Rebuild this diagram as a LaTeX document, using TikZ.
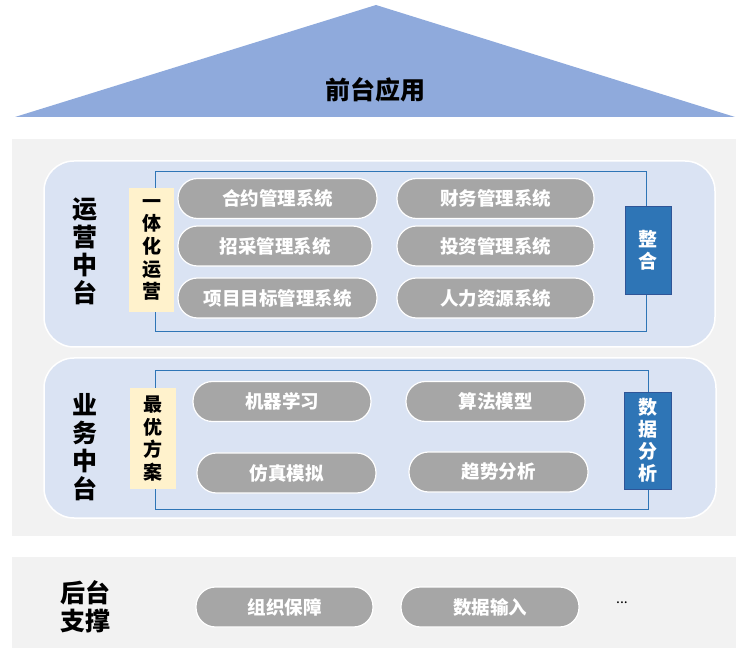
\documentclass[tikz,border=0pt]{standalone}
\usepackage{fontspec}
\setmainfont{Noto Sans CJK SC}
\definecolor{triblue}{HTML}{8FAADC}
\definecolor{bggray}{HTML}{F2F2F2}
\definecolor{panel}{HTML}{DAE3F3}
\definecolor{lineblue}{HTML}{2E75B6}
\definecolor{softyellow}{HTML}{FFF2CC}
\definecolor{pillgray}{HTML}{A6A6A6}
\definecolor{boxblue}{HTML}{2E75B6}
\definecolor{boxedge}{HTML}{2F5597}
\begin{document}
\begin{tikzpicture}[x=1pt,y=-1pt,
  pill/.style={draw=white, line width=1.2pt, fill=pillgray, rounded corners=19.5pt,
    minimum height=40pt, text=white, inner sep=0pt,
    font=\fontsize{18.5}{20}\selectfont\bfseries},
  panelbox/.style={draw=white, line width=1.5pt, fill=panel, rounded corners=30pt},
  sidetag/.style={fill=softyellow, inner sep=0pt, align=center,
    font=\fontsize{19}{22.7}\selectfont\bfseries},
  bluetag/.style={fill=boxblue, draw=boxedge, line width=0.8pt, inner sep=0pt, align=center,
    text=white, font=\fontsize{19}{22}\selectfont\bfseries},
  biglabel/.style={align=center, inner sep=0pt, font=\fontsize{25}{28}\selectfont\bfseries},
  frameline/.style={draw=lineblue, line width=1pt}]
\useasboundingbox (0,0) rectangle (753,652);
% front triangle
\fill[triblue] (15,117) -- (376,5) -- (735,117) -- cycle;
\node[biglabel] (front) at (375,90) {前台应用};
% middle gray background
\fill[bggray] (12,139) rectangle (736,536);
% panels
\draw[panelbox] (44,161) rectangle (715,347);
\draw[panelbox] (44,358) rectangle (716,518);
% inner frames
\draw[frameline] (155,172) rectangle (646,332);
\draw[frameline] (155,371) rectangle (648,509);
% side labels
\node[biglabel] (ops) at (85,251) {运\\营\\中\\台};
\node[biglabel] (biz) at (85,447) {业\\务\\中\\台};
% yellow tags
\node[sidetag, minimum width=45pt, minimum height=124pt] (integ) at (151.5,250) {一\\体\\化\\运\\营};
\node[sidetag, minimum width=46pt, minimum height=101pt] (best) at (153,438.5) {最\\优\\方\\案};
% top pills
\node[pill, minimum width=199pt] (p1) at (277.5,198.5) {合约管理系统};
\node[pill, minimum width=194pt] (p2) at (275,246) {招采管理系统};
\node[pill, minimum width=199pt] (p3) at (277.5,298) {项目目标管理系统};
\node[pill, minimum width=197pt] (p4) at (495.5,198.5) {财务管理系统};
\node[pill, minimum width=197pt] (p5) at (495.5,246) {投资管理系统};
\node[pill, minimum width=197pt] (p6) at (495.5,298) {人力资源系统};
% lower pills
\node[pill, minimum width=178pt] (q1) at (282,401.5) {机器学习};
\node[pill, minimum width=179pt] (q2) at (286.5,473) {仿真模拟};
\node[pill, minimum width=179pt] (q3) at (495.5,401.5) {算法模型};
\node[pill, minimum width=179pt] (q4) at (498.5,472) {趋势分析};
% blue tags
\node[bluetag, minimum width=46pt, minimum height=88pt] (merge) at (648,250) {整\\合};
\node[bluetag, minimum width=47pt, minimum height=97pt] (data) at (647.5,440.5) {数\\据\\分\\析};
% back support
\fill[bggray] (12,557) rectangle (736,648);
\node[biglabel] (back) at (85,607) {后台\\支撑};
\node[pill, minimum width=177pt] (r1) at (284.5,607) {组织保障};
\node[pill, minimum width=178pt] (r2) at (490,607) {数据输入};
\node[inner sep=0pt, font=\fontsize{14}{16}\selectfont] (more) at (622,603) {...};
\end{tikzpicture}
\end{document}
